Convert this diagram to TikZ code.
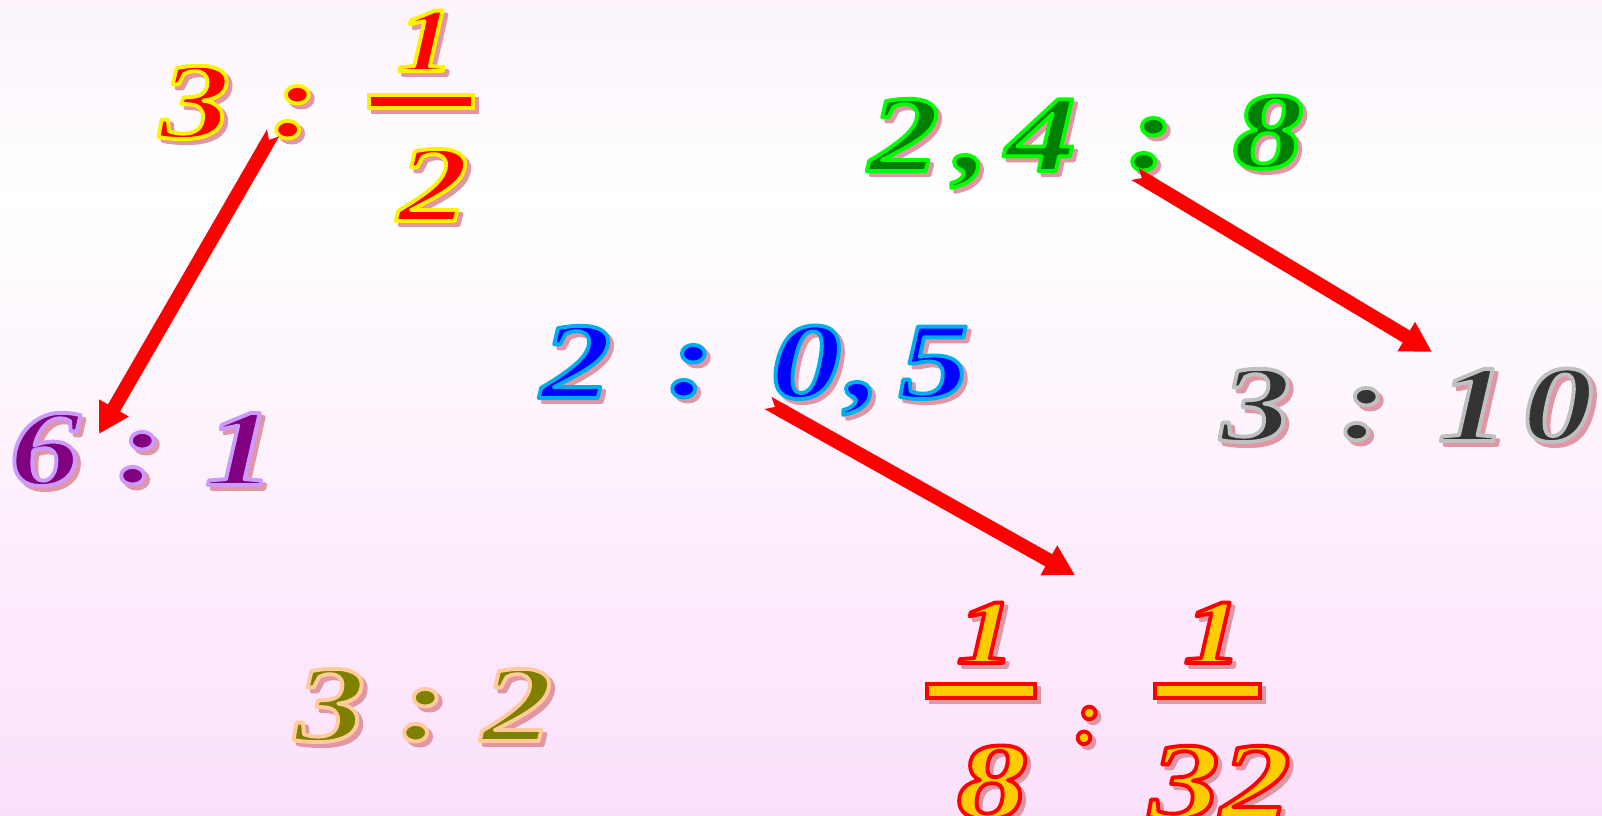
\documentclass[tikz,border=0pt]{standalone}
\usepackage{fontspec}
\setmainfont{Liberation Serif}
\usepackage{tikz}
\usetikzlibrary{arrows.meta}
\definecolor{bgtop}{RGB}{252,243,252}
\definecolor{bgbot}{RGB}{251,224,250}
\definecolor{wshadow}{RGB}{225,150,165}
\definecolor{wagreen}{RGB}{0,255,0}
\definecolor{wadkgreen}{RGB}{0,128,0}
\definecolor{walilac}{RGB}{204,153,255}
\definecolor{wapurple}{RGB}{128,0,128}
\definecolor{wasilver}{RGB}{192,192,192}
\definecolor{wadkgray}{RGB}{51,51,51}
\definecolor{wagold}{RGB}{255,204,0}
\definecolor{wapeach}{RGB}{255,204,153}
\definecolor{waolive}{RGB}{128,128,0}
% glyphs drawn with pdf text render mode #1 (1 = stroke, 2 = fill+stroke)
\newcommand\waglyph[2]{\special{pdf:literal direct #1 Tr 1.1 w 1 j}#2\special{pdf:literal direct 0 Tr}}
% outline colour, fill colour, text
\newcommand\wart[3]{%
  \rlap{\hspace{0.4mm}\raisebox{-0.4mm}{\color{wshadow}\waglyph{2}{#3}}}%
  \rlap{\color{#2}#3}%
  {\color{#1}\waglyph{1}{#3}}}
\tikzset{
  wa/.style    = {font=\bfseries\itshape\fontsize{31}{31}\selectfont\addfontfeatures{FakeStretch=1.3},
                  inner sep=0pt, anchor=base},
  wanum/.style = {wa, font=\bfseries\itshape\fontsize{26}{26}\selectfont\addfontfeatures{FakeStretch=1.3}},
  wasmall/.style = {wa, font=\bfseries\itshape\fontsize{22}{22}\selectfont},
  fbar/.style  = {line width=0.04cm},
  barshadow/.style = {fill=wshadow, draw=wshadow, line width=0.04cm},
  redarr/.style = {{Triangle Cap[reversed,length=0.08cm]}-{Triangle[length=0.3cm,width=0.32cm]},
                   line width=0.14cm, red},
}

\begin{document}
\begin{tikzpicture}[x=0.01cm, y=-0.01cm]
  \useasboundingbox (0,0) rectangle (1602,816);
  \shade[top color=bgtop, bottom color=white] (0,0) rectangle (1602,200);
  \shade[top color=white, bottom color=bgbot] (0,199) rectangle (1602,816);

  % 3 : 1/2
  \node[wa] (threeA) at (195,138) {\wart{yellow}{red}{3}};
  \node[wa] (colA)   at (295,137) {\wart{yellow}{red}{:}};
  \node[wanum] (numA) at (426,71) {\wart{yellow}{red}{1}};
  \draw[barshadow] (373,99) rectangle (477,112);
  \draw[fbar, draw=yellow, fill=red] (369,95) rectangle (473,108);
  \node[wa] (denA)   at (433,221) {\wart{yellow}{red}{2}};

  % 2,4 : 8
  \node[wa] (twoB)   at (904,171)  {\wart{wagreen}{wadkgreen}{2}};
  \node[wa] (commaB) at (972,171)  {\wart{wagreen}{wadkgreen}{,}};
  \node[wa] (fourB)  at (1041,171) {\wart{wagreen}{wadkgreen}{4}};
  \node[wa] (colB)   at (1151,169) {\wart{wagreen}{wadkgreen}{:}};
  \node[wa] (eightB) at (1268,168) {\wart{wagreen}{wadkgreen}{8}};

  % 6 : 1
  \node[wa] (sixC)   at (45,485)  {\wart{walilac}{wapurple}{6}};
  \node[wa] (colC)   at (140,483) {\wart{walilac}{wapurple}{:}};
  \node[wa] (oneC)   at (240,485) {\wart{walilac}{wapurple}{1}};

  % 2 : 0,5
  \node[wa] (twoD)   at (576,398) {\wart{cyan}{blue}{2}};
  \node[wa] (colD)   at (691,396) {\wart{cyan}{blue}{:}};
  \node[wa] (zeroD)  at (806,398) {\wart{cyan}{blue}{0}};
  \node[wa] (commaD) at (864,398) {\wart{cyan}{blue}{,}};
  \node[wa] (fiveD)  at (934,398) {\wart{cyan}{blue}{5}};

  % 3 : 10
  \node[wa] (threeE) at (1256,441) {\wart{wasilver}{wadkgray}{3}};
  \node[wa] (colE)   at (1364,439) {\wart{wasilver}{wadkgray}{:}};
  \node[wa] (oneE)   at (1473,441) {\wart{wasilver}{wadkgray}{1}};
  \node[wa] (zeroE)  at (1558,441) {\wart{wasilver}{wadkgray}{0}};

  % 1/8 : 1/32
  \node[wanum] (numF) at (986,663) {\wart{red}{wagold}{1}};
  \draw[barshadow] (931,688) rectangle (1039,702);
  \draw[fbar, draw=red, fill=wagold] (927,684) rectangle (1035,698);
  \node[wa] (denF)   at (992,818)  {\wart{red}{wagold}{8}};
  \node[wasmall] (colF) at (1088,743) {\wart{red}{wagold}{:}};
  \node[wanum] (numG) at (1213,663) {\wart{red}{wagold}{1}};
  \draw[barshadow] (1159,688) rectangle (1264,702);
  \draw[fbar, draw=red, fill=wagold] (1155,684) rectangle (1260,698);
  \node[wa] (denG)   at (1220,818) {\wart{red}{wagold}{32}};

  % 3 : 2
  \node[wa] (threeH) at (330,741) {\wart{wapeach}{waolive}{3}};
  \node[wa] (colH)   at (423,740) {\wart{wapeach}{waolive}{:}};
  \node[wa] (twoH)   at (517,741) {\wart{wapeach}{waolive}{2}};

  % arrows
  \coordinate (tailA) at (273,133);
  \coordinate (tipA)  at (99,434);
  \coordinate (tailB) at (1135,174);
  \coordinate (tipB)  at (1432,352);
  \coordinate (tailD) at (768,403);
  \coordinate (tipD)  at (1075,575);
  \draw[redarr] (tailA) -- (tipA);
  \draw[redarr] (tailB) -- (tipB);
  \draw[redarr] (tailD) -- (tipD);
\end{tikzpicture}
\end{document}
